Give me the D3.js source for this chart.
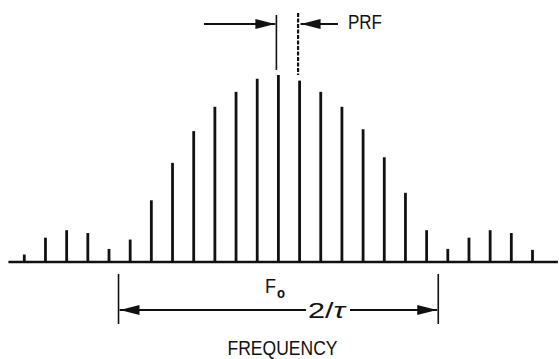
<!DOCTYPE html>
<html>
  <head>
    <title>PRF spectrum</title>
    <script src="https://d3js.org/d3.v7.min.js"></script>
    <style>
      body { margin: 0; background: #fff; }
      text { font-family: "Liberation Sans", Arial, sans-serif; fill: #111; }
    </style>
  </head>
  <body>
  </body>
</html>

<script>
  // spectral line index relative to F0 (in units of PRF)
  var harmonics = d3.range(-12, 13);
  // relative amplitude of each line (peak = 1)
  var amplitudes = [0.04, 0.13, 0.17, 0.155, 0.07, 0.12, 0.33, 0.53, 0.70, 0.83, 0.91, 0.98,
                    1.00, 0.97, 0.91, 0.83, 0.71, 0.56, 0.37, 0.17, 0.07, 0.13, 0.17, 0.155, 0.065];
  var axisSpan = [-12.75, 13.2];     // baseline extent, in harmonics
  var mainLobe = [-7.55, 7.55];      // 2/tau marker ends
  var prfPair = [0, 1];              // lines the PRF arrows point at

  var width = 559, height = 359;
  var svg = d3.select("body").append("svg")
              .attr("width", width)
              .attr("height", height);

  var x = d3.scaleLinear().domain([-12, 12]).range([24.3, 532.5]);
  var y = d3.scaleLinear().domain([0, 1]).range([262, 75]);

  var defs = svg.append("defs");
  defs.append("marker")
      .attr("id", "head")
      .attr("viewBox", "0 0 20 10")
      .attr("refX", 20).attr("refY", 5)
      .attr("markerWidth", 20).attr("markerHeight", 10)
      .attr("markerUnits", "userSpaceOnUse")
      .attr("orient", "auto")
    .append("path")
      .attr("d", "M0,0 L20,5 L0,10 Z")
      .attr("fill", "#111");

  // spectral lines
  var data = harmonics.map(function (h, i) { return {h: h, a: amplitudes[i]}; });
  svg.selectAll("line.spec")
     .data(data)
     .enter()
     .append("line")
     .attr("class", "spec")
     .attr("x1", function (d) { return x(d.h); })
     .attr("x2", function (d) { return x(d.h); })
     .attr("y1", y(0))
     .attr("y2", function (d) { return y(d.a); })
     .attr("stroke", "#111")
     .attr("stroke-width", 2.8);

  // baseline
  svg.append("line")
     .attr("x1", x(axisSpan[0])).attr("x2", x(axisSpan[1]))
     .attr("y1", y(0)).attr("y2", y(0))
     .attr("stroke", "#111")
     .attr("stroke-width", 2.4);

  // PRF marker
  svg.append("line")
     .attr("x1", x(prfPair[0]) - 2).attr("x2", x(prfPair[0]) - 2)
     .attr("y1", 15).attr("y2", 70)
     .attr("stroke", "#111").attr("stroke-width", 1.6);
  svg.append("line")
     .attr("x1", x(prfPair[1]) - 1.5).attr("x2", x(prfPair[1]) - 1.5)
     .attr("y1", 13).attr("y2", 75)
     .attr("stroke", "#111").attr("stroke-width", 2.2)
     .attr("stroke-dasharray", "4,1.5");
  svg.append("line")
     .attr("x1", 204).attr("x2", x(prfPair[0]) - 3)
     .attr("y1", 24).attr("y2", 24)
     .attr("stroke", "#111").attr("stroke-width", 2)
     .attr("marker-end", "url(#head)");
  svg.append("line")
     .attr("x1", 338).attr("x2", x(prfPair[1]) + 1)
     .attr("y1", 24).attr("y2", 24)
     .attr("stroke", "#111").attr("stroke-width", 2)
     .attr("marker-end", "url(#head)");
  svg.append("text")
     .attr("x", 348).attr("y", 29)
     .attr("font-size", 19.5)
     .attr("textLength", 34).attr("lengthAdjust", "spacingAndGlyphs")
     .text("PRF");

  // 2/tau marker
  mainLobe.forEach(function (h) {
    svg.append("line")
       .attr("x1", x(h)).attr("x2", x(h))
       .attr("y1", 274).attr("y2", 324)
       .attr("stroke", "#111").attr("stroke-width", 1.6);
  });
  svg.append("line")
     .attr("x1", 306).attr("x2", x(mainLobe[0]) + 1)
     .attr("y1", 310).attr("y2", 310)
     .attr("stroke", "#111").attr("stroke-width", 2)
     .attr("marker-end", "url(#head)");
  svg.append("line")
     .attr("x1", 350).attr("x2", x(mainLobe[1]) - 1)
     .attr("y1", 310).attr("y2", 310)
     .attr("stroke", "#111").attr("stroke-width", 2)
     .attr("marker-end", "url(#head)");
  var tau = svg.append("text")
     .attr("x", 308).attr("y", 318)
     .attr("font-size", 22)
     .attr("textLength", 37).attr("lengthAdjust", "spacingAndGlyphs");
  tau.append("tspan").text("2/");
  tau.append("tspan").attr("font-style", "italic").text("\u03c4");

  // F0 label
  svg.append("text")
     .attr("x", 265).attr("y", 293)
     .attr("font-size", 20)
     .attr("textLength", 11).attr("lengthAdjust", "spacingAndGlyphs")
     .text("F");
  svg.append("text")
     .attr("x", 277).attr("y", 297.5)
     .attr("font-size", 14)
     .attr("font-weight", "bold")
     .attr("textLength", 8).attr("lengthAdjust", "spacingAndGlyphs")
     .text("o");

  // axis title
  svg.append("text")
     .attr("x", 227.5).attr("y", 355)
     .attr("font-size", 21)
     .attr("textLength", 110).attr("lengthAdjust", "spacingAndGlyphs")
     .text("FREQUENCY");
</script>
